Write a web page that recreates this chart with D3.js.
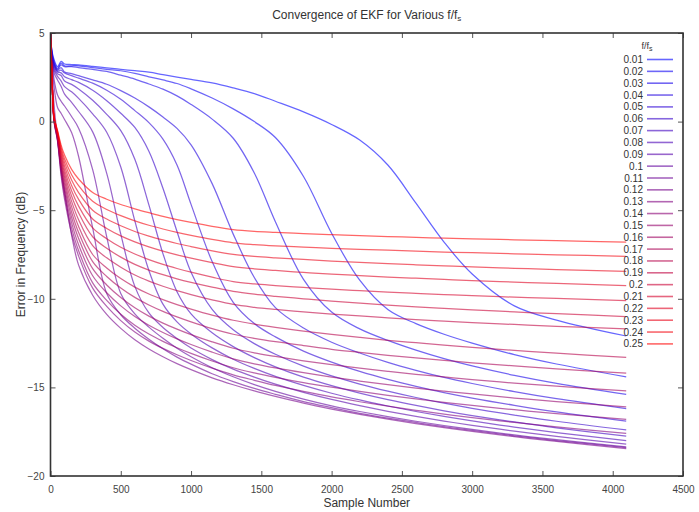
<!DOCTYPE html>
<html><head><meta charset="utf-8">
<script src="https://cdn.jsdelivr.net/npm/d3@7"></script>
<style>
body{margin:0;background:#fff}
svg{font-family:"Liberation Sans",Arial,Helvetica,sans-serif}
</style>
</head><body>
<svg id="chart" width="699" height="512"></svg>
<script>
const sampleNumbers = [0,10,25,50,75,100,150,200,300,400,500,600,700,800,900,1000,1150,1300,1450,1600,1800,2000,2200,2400,2600,2800,3000,3300,3600,4096];
const ratioLabels = ["0.01","0.02","0.03","0.04","0.05","0.06","0.07","0.08","0.09","0.1","0.11","0.12","0.13","0.14","0.15","0.16","0.17","0.18","0.19","0.2","0.21","0.22","0.23","0.24","0.25"];
const xTickValues = [0,500,1000,1500,2000,2500,3000,3500,4000,4500];
const yTickValues = [-20,-15,-10,-5,0,5];

// error in frequency (dB) for each f/fs, at sampleNumbers
const err001 = [5,4.0,3.5,3.1,3.4,3.25,3.22,3.2,3.12,3.03,2.95,2.87,2.79,2.65,2.51,2.38,2.18,1.9,1.58,1.15,0.55,-0.16,-1.04,-2.45,-4.6,-6.8,-8.6,-10.4,-11.2,-12.1];
const err002 = [5,3.95,3.4,3.0,3.3,3.15,3.15,3.15,3.05,2.95,2.87,2.72,2.53,2.35,2.15,1.85,1.33,0.72,0.0,-0.9,-3.1,-6.3,-8.95,-10.6,-11.4,-12.0,-12.5,-13.15,-13.68,-14.4];
const err003 = [5,3.9,3.3,2.95,3.2,3.1,3.1,3.05,2.95,2.83,2.62,2.4,2.12,1.83,1.45,0.97,0.14,-0.94,-2.9,-5.65,-8.9,-10.75,-11.7,-12.35,-12.9,-13.38,-13.79,-14.32,-14.77,-15.4];
const err004 = [5,3.85,3.25,2.9,3.05,2.8,2.71,2.59,2.36,2.11,1.75,1.33,0.83,0.26,-0.38,-1.31,-3.5,-6.35,-8.8,-10.5,-11.65,-12.45,-13.06,-13.59,-14.04,-14.44,-14.78,-15.24,-15.64,-16.2];
const err005 = [5,3.8,3.2,2.85,2.9,2.74,2.59,2.45,2.17,1.77,1.26,0.62,-0.06,-0.99,-2.45,-4.67,-7.9,-10.2,-11.4,-12.15,-12.95,-13.57,-14.1,-14.55,-14.94,-15.29,-15.6,-16.01,-16.38,-16.9];
const err006 = [5,3.75,3.1,2.8,2.75,2.53,2.37,2.21,1.77,1.18,0.47,-0.33,-1.67,-3.76,-6.2,-8.5,-10.6,-11.75,-12.53,-13.13,-13.8,-14.35,-14.81,-15.21,-15.57,-15.89,-16.18,-16.56,-16.91,-17.4];
const err007 = [5,3.7,3.0,2.7,2.6,2.29,2.1,1.84,1.2,0.41,-0.51,-2.13,-4.7,-7.45,-9.6,-10.85,-11.92,-12.7,-13.32,-13.84,-14.42,-14.9,-15.32,-15.69,-16.02,-16.32,-16.59,-16.95,-17.28,-17.75];
const err008 = [5,3.6,2.9,2.55,2.3,1.97,1.68,1.31,0.44,-0.6,-2.56,-5.6,-8.4,-10.3,-11.3,-11.98,-12.77,-13.41,-13.93,-14.38,-14.89,-15.33,-15.71,-16.05,-16.36,-16.64,-16.89,-17.24,-17.55,-18.0];
const err009 = [5,3.5,2.75,2.35,2.0,1.55,1.09,0.57,-0.58,-2.92,-6.35,-9.3,-10.8,-11.62,-12.24,-12.78,-13.43,-13.97,-14.42,-14.82,-15.28,-15.68,-16.03,-16.35,-16.64,-16.9,-17.14,-17.47,-17.77,-18.2];
const err010 = [5,3.4,2.4,1.5,1.15,0.88,0.29,-0.37,-2.71,-6.5,-9.7,-10.85,-11.6,-12.23,-12.79,-13.27,-13.89,-14.4,-14.84,-15.22,-15.66,-16.04,-16.36,-16.65,-16.91,-17.15,-17.37,-17.68,-17.95,-18.35];
const err011 = [5,3.3,2.0,0.8,0.47,0.12,-0.62,-1.97,-6.0,-9.7,-10.9,-11.66,-12.28,-12.82,-13.29,-13.69,-14.23,-14.67,-15.06,-15.39,-15.8,-16.14,-16.46,-16.73,-16.98,-17.22,-17.43,-17.73,-18.0,-18.4];
const err012 = [5,3.0,1.0,-1.0,-2.6,-3.93,-6.4,-8.1,-9.8,-10.88,-11.67,-12.31,-12.83,-13.27,-13.66,-14.0,-14.46,-14.85,-15.2,-15.51,-15.89,-16.22,-16.52,-16.79,-17.04,-17.27,-17.48,-17.78,-18.05,-18.45];
const err013 = [5,2.7,0.0,-1.1,-3.02,-4.38,-6.3,-7.59,-9.4,-10.43,-11.23,-11.88,-12.39,-12.8,-13.16,-13.48,-13.91,-14.29,-14.6,-14.89,-15.23,-15.54,-15.81,-16.06,-16.29,-16.51,-16.7,-16.98,-17.23,-17.6];
const err014 = [5,2.7,0.05,-1.05,-2.88,-4.17,-6.0,-7.29,-9.1,-10.09,-10.87,-11.49,-11.99,-12.4,-12.76,-13.08,-13.51,-13.89,-14.18,-14.43,-14.73,-14.99,-15.23,-15.45,-15.65,-15.84,-16.02,-16.26,-16.48,-16.8];
const err015 = [5,2.7,0.05,-1.0,-2.73,-3.97,-5.7,-6.95,-8.7,-9.66,-10.4,-11.0,-11.49,-11.9,-12.26,-12.58,-13.01,-13.39,-13.67,-13.9,-14.17,-14.42,-14.64,-14.85,-15.04,-15.21,-15.37,-15.6,-15.8,-16.1];
const err016 = [5,2.7,0.1,-0.95,-2.59,-3.76,-5.4,-6.6,-8.3,-9.22,-9.93,-10.51,-10.98,-11.37,-11.71,-12.02,-12.43,-12.79,-13.05,-13.25,-13.5,-13.72,-13.91,-14.09,-14.26,-14.41,-14.56,-14.76,-14.93,-15.2];
const err017 = [5,2.7,0.1,-0.9,-2.45,-3.55,-5.1,-6.26,-7.9,-8.74,-9.39,-9.92,-10.35,-10.71,-11.02,-11.3,-11.68,-12.0,-12.23,-12.42,-12.64,-12.85,-13.02,-13.19,-13.34,-13.48,-13.61,-13.79,-13.96,-14.2];
const err018 = [5,2.7,0.15,-0.85,-2.31,-3.34,-4.8,-5.92,-7.5,-8.26,-8.86,-9.34,-9.73,-10.05,-10.33,-10.58,-10.92,-11.21,-11.43,-11.61,-11.82,-12.01,-12.18,-12.34,-12.48,-12.62,-12.74,-12.91,-13.07,-13.3];
const err019 = [5,2.7,0.15,-0.8,-2.17,-3.14,-4.5,-5.54,-7.0,-7.69,-8.22,-8.66,-9.0,-9.29,-9.54,-9.76,-10.06,-10.32,-10.48,-10.6,-10.74,-10.86,-10.97,-11.07,-11.17,-11.26,-11.34,-11.45,-11.55,-11.7];
const err020 = [5,2.7,0.2,-0.75,-2.02,-2.93,-4.2,-5.15,-6.5,-7.15,-7.65,-8.06,-8.38,-8.64,-8.87,-9.07,-9.34,-9.58,-9.74,-9.86,-10.0,-10.13,-10.24,-10.35,-10.45,-10.54,-10.62,-10.74,-10.84,-11.0];
const err021 = [5,2.7,0.2,-0.7,-1.88,-2.72,-3.9,-4.77,-6.0,-6.61,-7.09,-7.47,-7.79,-8.06,-8.29,-8.5,-8.78,-9.03,-9.16,-9.25,-9.36,-9.46,-9.54,-9.62,-9.69,-9.76,-9.82,-9.91,-9.98,-10.1];
const err022 = [5,2.7,0.25,-0.65,-1.74,-2.51,-3.6,-4.39,-5.5,-6.03,-6.45,-6.79,-7.07,-7.31,-7.52,-7.71,-7.96,-8.18,-8.31,-8.4,-8.51,-8.61,-8.69,-8.77,-8.84,-8.91,-8.97,-9.06,-9.13,-9.25];
const err023 = [5,2.7,0.25,-0.6,-1.6,-2.3,-3.3,-4.01,-5.0,-5.5,-5.88,-6.2,-6.46,-6.68,-6.88,-7.05,-7.29,-7.49,-7.61,-7.69,-7.78,-7.87,-7.95,-8.02,-8.08,-8.14,-8.2,-8.28,-8.35,-8.45];
const err024 = [5,2.7,0.3,-0.55,-1.45,-2.1,-3.0,-3.62,-4.5,-4.96,-5.31,-5.6,-5.85,-6.06,-6.25,-6.42,-6.65,-6.84,-6.94,-7.01,-7.08,-7.15,-7.21,-7.26,-7.31,-7.36,-7.4,-7.46,-7.52,-7.6];
const err025 = [5,2.7,0.3,-0.5,-1.31,-1.89,-2.7,-3.24,-4.0,-4.38,-4.68,-4.92,-5.14,-5.35,-5.53,-5.69,-5.91,-6.09,-6.19,-6.25,-6.32,-6.38,-6.44,-6.49,-6.53,-6.58,-6.62,-6.67,-6.72,-6.8];

const errorSeries = [err001,err002,err003,err004,err005,err006,err007,err008,err009,err010,err011,err012,err013,err014,err015,err016,err017,err018,err019,err020,err021,err022,err023,err024,err025];

const plot = {left:50.5, right:683, top:33, bottom:476};
const svg = d3.select("#chart");
const x = d3.scaleLinear().domain([0,4500]).range([plot.left, plot.right]);
const y = d3.scaleLinear().domain([-20,5]).range([plot.bottom, plot.top]);
const colorAt = i => d3.interpolateRgb("rgb(0,0,255)","rgb(255,0,0)")(i/(ratioLabels.length-1));

svg.append("defs").append("clipPath").attr("id","clip")
  .append("rect").attr("x",plot.left).attr("y",plot.top)
  .attr("width",plot.right-plot.left).attr("height",plot.bottom-plot.top);

const line = d3.line()
  .x((d,i)=>x(sampleNumbers[i]))
  .y(d=>y(d))
  .curve(d3.curveCatmullRom.alpha(0.5));

svg.append("g").attr("clip-path","url(#clip)")
  .selectAll("path").data(errorSeries).join("path")
  .attr("d", line)
  .attr("fill","none")
  .attr("stroke",(d,i)=>colorAt(i))
  .attr("stroke-opacity",0.6)
  .attr("stroke-width",1.25);

// axes
const axisColor = "#333";
const gx = svg.append("g").attr("transform",`translate(0,${plot.bottom})`)
  .call(d3.axisBottom(x).tickValues(xTickValues).tickSize(-5).tickPadding(10).tickFormat(d3.format("d")));
const gy = svg.append("g").attr("transform",`translate(${plot.left},0)`)
  .call(d3.axisLeft(y).tickValues(yTickValues).tickSize(-5).tickPadding(6).tickFormat(d3.format("d")));
const gxt = svg.append("g").attr("transform",`translate(0,${plot.top})`)
  .call(d3.axisTop(x).tickValues(xTickValues).tickSize(-5).tickFormat(""));
const gyr = svg.append("g").attr("transform",`translate(${plot.right},0)`)
  .call(d3.axisRight(y).tickValues(yTickValues).tickSize(-5).tickFormat(""));
[gx,gy,gxt,gyr].forEach(g=>{
  g.select(".domain").remove();
  g.selectAll(".tick line").attr("stroke","#555").attr("stroke-width",1);
  g.selectAll(".tick text").attr("fill","#444").style("font-size","10px");
});

svg.append("rect")
  .attr("x",plot.left).attr("y",plot.top)
  .attr("width",plot.right-plot.left).attr("height",plot.bottom-plot.top)
  .attr("fill","none").attr("stroke",axisColor).attr("stroke-width",1.6);

// title
const title = svg.append("text").attr("x",(plot.left+plot.right)/2).attr("y",19)
  .attr("text-anchor","middle").attr("fill","#333").style("font-size","12px")
  .text("Convergence of EKF for Various f/f");
title.append("tspan").attr("dy",2).style("font-size","8px").text("s");

svg.append("text").attr("x",(plot.left+plot.right)/2).attr("y",507)
  .attr("text-anchor","middle").attr("fill","#333").style("font-size","12px")
  .text("Sample Number");

svg.append("text").attr("transform",`translate(21,${(plot.top+plot.bottom)/2}) rotate(-90)`)
  .attr("text-anchor","middle").attr("dy","0.35em").attr("fill","#333").style("font-size","12px")
  .text("Error in Frequency (dB)");

// legend
const leg = svg.append("g");
const legTitle = leg.append("text").attr("x",647).attr("y",49)
  .attr("text-anchor","middle").attr("fill","#333").style("font-size","9px")
  .text("f/f");
legTitle.append("tspan").attr("dy",2).style("font-size","7px").text("s");

const legRowY = i => 59.5 + i*11.85;
const rows = leg.selectAll("g.row").data(ratioLabels).join("g").attr("class","row");
rows.append("text").attr("x",643).attr("y",(d,i)=>legRowY(i)).attr("dy","0.35em")
  .attr("text-anchor","end").attr("fill","#333").style("font-size","10px").text(d=>d);
rows.append("line").attr("x1",647).attr("x2",673)
  .attr("y1",(d,i)=>legRowY(i)).attr("y2",(d,i)=>legRowY(i))
  .attr("stroke",(d,i)=>colorAt(i)).attr("stroke-opacity",0.6).attr("stroke-width",1.6);
</script>
</body></html>
